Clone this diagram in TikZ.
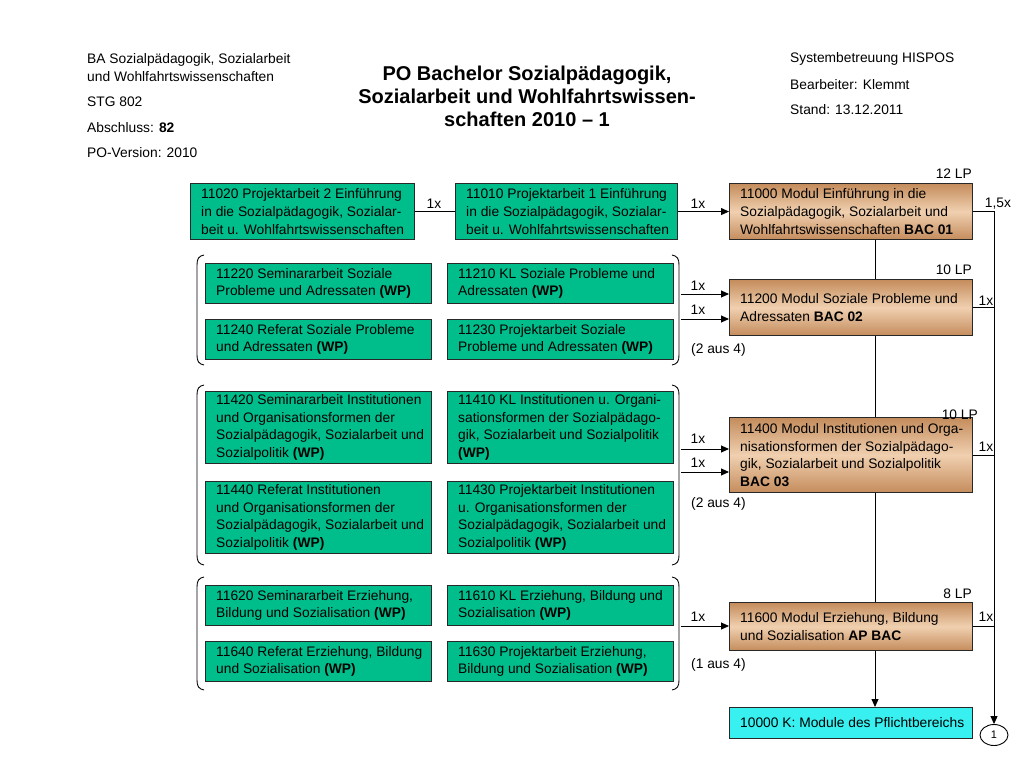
\documentclass[tikz,border=0pt]{standalone}
\usepackage{fontspec}
\setmainfont{Liberation Sans}
\usetikzlibrary{arrows.meta,calc,shapes.geometric}
\definecolor{boxgreen}{RGB}{0,190,140}
\definecolor{modtop}{RGB}{196,140,92}
\definecolor{modmid}{RGB}{240,208,176}
\definecolor{cyanbox}{RGB}{56,240,240}
\definecolor{edge}{RGB}{40,40,40}
\newcommand\mybox[7]{%
  \node[#2, minimum width=#5pt, minimum height=#6pt] (#1) at (#3,#4) {};
  \node[txt, anchor=west] (#1t) at ([xshift=11pt]#1.west) {#7};}
\newcommand\mybrackets[2]{%
  \draw[brk] (204,#1) .. controls (198.5,{#1+1}) and (197,{#1+4}) .. (197,{#1+10}) -- (197,{#2-10}) .. controls (197,{#2-4}) and (198.5,{#2-1}) .. (204,#2);
  \draw[brk] (672,#1) .. controls (677.5,{#1+1}) and (679,{#1+4}) .. (679,{#1+10}) -- (679,{#2-10}) .. controls (679,{#2-4}) and (677.5,{#2-1}) .. (672,#2);}
\begin{document}
\begin{tikzpicture}[x=1pt,y=-1pt,
  boxbase/.style={draw=edge, line width=1.1pt, inner sep=0pt, anchor=north west},
  greenbox/.style={boxbase, fill=boxgreen},
  modbox/.style={boxbase, top color=modtop, bottom color=modtop, middle color=modmid},
  cyanfill/.style={boxbase, fill=cyanbox},
  txt/.style={inner sep=0pt, align=left, font=\fontsize{13.8}{17.6}\selectfont},
  lbl/.style={inner sep=0pt, font=\fontsize{13.8}{17.6}\selectfont},
  conn/.style={line width=0.9pt, draw=black},
  arr/.style={conn, -{Triangle[length=8pt,width=7pt]}},
  brk/.style={line width=0.9pt},
  hdr/.style={inner sep=0pt, align=left, anchor=west, font=\fontsize{13.8}{18}\selectfont},
]
\useasboundingbox (0,0) rectangle (1024,768);
\fill[white] (0,0) rectangle (1024,768);

% header
\node[hdr] (h1) at (87,68) {BA Sozialpädagogik, Sozialarbeit\\und Wohlfahrtswissenschaften};
\node[hdr] (h2) at (87,102) {STG 802};
\node[hdr] (h3) at (87,128) {Abschluss: \textbf{82}};
\node[hdr] (h4) at (87,153) {PO-Version: 2010};
\node[inner sep=0pt, align=center, font=\bfseries\fontsize{20}{23}\selectfont] (title) at (527,96) {PO Bachelor Sozialpädagogik,\\Sozialarbeit und Wohlfahrtswissen-\\schaften 2010 -- 1};
\node[hdr] (r1) at (790,59) {Systembetreuung HISPOS};
\node[hdr] (r2) at (790,85) {Bearbeiter: Klemmt};
\node[hdr] (r3) at (790,110) {Stand: 13.12.2011};

% row 1
\mybox{n11020}{greenbox}{190}{183}{224}{56}{11020 Projektarbeit 2 Einführung\\in die Sozialpädagogik, Sozialar-\\beit u. Wohlfahrtswissenschaften}
\mybox{n11010}{greenbox}{455}{183}{222}{56}{11010 Projektarbeit 1 Einführung\\in die Sozialpädagogik, Sozialar-\\beit u. Wohlfahrtswissenschaften}
\mybox{n11000}{modbox}{729}{183}{243}{56}{11000 Modul Einführung in die\\Sozialpädagogik, Sozialarbeit und\\Wohlfahrtswissenschaften \textbf{BAC 01}}

% row 2
\mybox{n11220}{greenbox}{205}{263}{226}{40}{11220 Seminararbeit Soziale\\Probleme und Adressaten \textbf{(WP)}}
\mybox{n11210}{greenbox}{447}{263}{226}{40}{11210 KL Soziale Probleme und\\Adressaten \textbf{(WP)}}
\mybox{n11240}{greenbox}{205}{319}{226}{40}{11240 Referat Soziale Probleme\\und Adressaten \textbf{(WP)}}
\mybox{n11230}{greenbox}{447}{319}{226}{40}{11230 Projektarbeit Soziale\\Probleme und Adressaten \textbf{(WP)}}
\mybox{n11200}{modbox}{729}{279}{243}{56}{11200 Modul Soziale Probleme und\\Adressaten \textbf{BAC 02}}
\mybrackets{255}{365}

% row 3
\mybox{n11420}{greenbox}{205}{391}{226}{72}{11420 Seminararbeit Institutionen\\und Organisationsformen der\\Sozialpädagogik, Sozialarbeit und\\Sozialpolitik \textbf{(WP)}}
\mybox{n11410}{greenbox}{447}{391}{226}{72}{11410 KL Institutionen u. Organi-\\sationsformen der Sozialpädago-\\gik, Sozialarbeit und Sozialpolitik\\\textbf{(WP)}}
\mybox{n11440}{greenbox}{205}{481}{226}{72}{11440 Referat Institutionen\\und Organisationsformen der\\Sozialpädagogik, Sozialarbeit und\\Sozialpolitik \textbf{(WP)}}
\mybox{n11430}{greenbox}{447}{481}{226}{72}{11430 Projektarbeit Institutionen\\u. Organisationsformen der\\Sozialpädagogik, Sozialarbeit und\\Sozialpolitik \textbf{(WP)}}
\mybox{n11400}{modbox}{729}{417}{243}{75}{11400 Modul Institutionen und Orga-\\nisationsformen der Sozialpädago-\\gik, Sozialarbeit und Sozialpolitik\\\textbf{BAC 03}}
\mybrackets{385}{565}

% row 4
\mybox{n11620}{greenbox}{205}{585}{226}{40}{11620 Seminararbeit Erziehung,\\Bildung und Sozialisation \textbf{(WP)}}
\mybox{n11610}{greenbox}{447}{585}{226}{40}{11610 KL Erziehung, Bildung und\\Sozialisation \textbf{(WP)}}
\mybox{n11640}{greenbox}{205}{641}{226}{40}{11640 Referat Erziehung, Bildung\\und Sozialisation \textbf{(WP)}}
\mybox{n11630}{greenbox}{447}{641}{226}{40}{11630 Projektarbeit Erziehung,\\Bildung und Sozialisation \textbf{(WP)}}
\mybox{n11600}{modbox}{729}{602}{243}{48}{11600 Modul Erziehung, Bildung\\und Sozialisation \textbf{AP BAC}}
\mybrackets{577}{690}

% final
\mybox{n10000}{cyanfill}{729}{707}{243}{31}{10000 K: Module des Pflichtbereichs}
\node[draw, ellipse, line width=0.9pt, minimum width=28pt, minimum height=21pt, inner sep=0pt, font=\fontsize{11}{12}\selectfont] (circ) at (994,735) {1};

% LP labels
\node[lbl, anchor=south east] (lp1) at (972,179) {12 LP};
\node[lbl, anchor=south east] (lp2) at (972,275) {10 LP};
\node[lbl, anchor=south east] (lp3) at (978,420) {10 LP};
\node[lbl, anchor=south east] (lp4) at (972,599) {8 LP};

% coordinates
\coordinate (vx) at (875,0);
\coordinate (rx) at (994,0);
\coordinate (g2a) at (681,294);
\coordinate (g2b) at (681,319);
\coordinate (g3a) at (681,449);
\coordinate (g3b) at (681,472);
\coordinate (g4a) at (681,626);

% row 1 connectors
\draw[conn] (n11020.east) -- (n11010.west);
\node[lbl] (l1) at (434,204) {1x};
\draw[arr] (n11010.east) -- (n11000.west);
\node[lbl] (l2) at (698,204) {1x};

% group connectors
\draw[arr] (g2a) -- (g2a -| n11200.west);
\draw[arr] (g2b) -- (g2b -| n11200.west);
\node[lbl] (l3) at (698,286) {1x};
\node[lbl] (l4) at (698,310) {1x};
\node[lbl, anchor=west] (l5) at (691,350) {(2 aus 4)};

\draw[arr] (g3a) -- (g3a -| n11400.west);
\draw[arr] (g3b) -- (g3b -| n11400.west);
\node[lbl] (l6) at (698,439) {1x};
\node[lbl] (l7) at (698,463) {1x};
\node[lbl, anchor=west] (l8) at (691,504) {(2 aus 4)};

\draw[arr] (g4a) -- (g4a -| n11600.west);
\node[lbl] (l9) at (698,617) {1x};
\node[lbl, anchor=west] (l10) at (691,665) {(1 aus 4)};

% central vertical line
\draw[conn] (n11000.south -| vx) -- (n11200.north -| vx);
\draw[conn] (n11200.south -| vx) -- (n11400.north -| vx);
\draw[conn] (n11400.south -| vx) -- (n11600.north -| vx);
\draw[arr] (n11600.south -| vx) -- (n10000.north -| vx);

% right line
\draw[arr] (n11000.east) -- (n11000.east -| rx) -- (circ.north);
\draw[conn] (n11200.east) -- (n11200.east -| rx);
\draw[conn] (n11400.east) -- (n11400.east -| rx);
\draw[conn] (n11600.east) -- (n11600.east -| rx);
\node[lbl] (r5) at (998,204) {1,5x};
\node[lbl] (r6) at (986,301) {1x};
\node[lbl] (r7) at (986,447) {1x};
\node[lbl] (r8) at (986,617) {1x};
\end{tikzpicture}
\end{document}
